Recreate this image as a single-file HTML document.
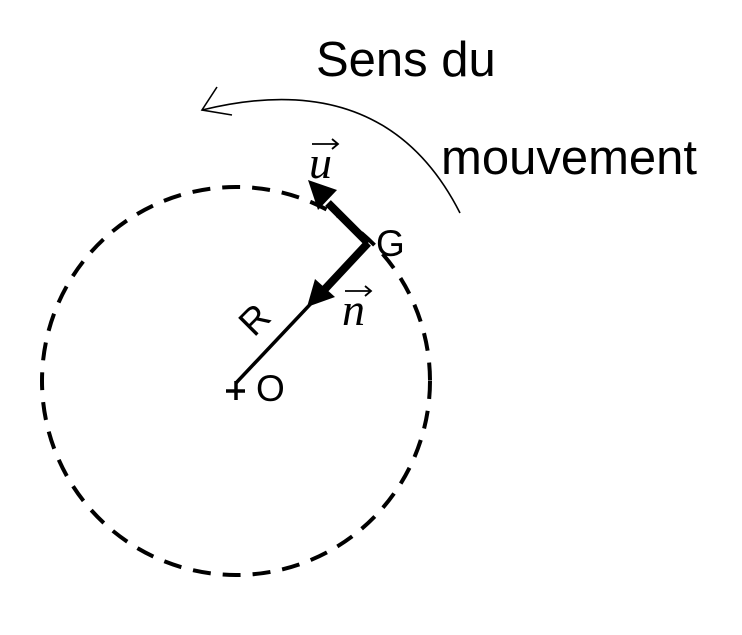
<!DOCTYPE html>
<html><head><style>body{margin:0;background:#fff}</style></head><body>
<svg width="742" height="630" xmlns="http://www.w3.org/2000/svg">
<rect width="742" height="630" fill="#fff"/>
<circle cx="236" cy="381" r="194" fill="none" stroke="#000" stroke-width="4" stroke-dasharray="18,12"/>
<path d="M460,213 Q385,65 202,110" fill="none" stroke="#000" stroke-width="1.6"/>
<path d="M217,87 L202,110 L232,115" fill="none" stroke="#000" stroke-width="1.6"/>
<line x1="236" y1="383" x2="368" y2="243" stroke="#000" stroke-width="3.5"/>
<line x1="368" y1="243" x2="325" y2="289" stroke="#000" stroke-width="8"/>
<polygon points="307,307 315,279 335,297" fill="#000"/>
<line x1="368" y1="243" x2="328" y2="203" stroke="#000" stroke-width="8"/>
<polygon points="308,180 337,190 318,210" fill="#000"/>
<line x1="226" y1="391" x2="245" y2="391" stroke="#000" stroke-width="3.5"/>
<line x1="236" y1="381" x2="236" y2="400" stroke="#000" stroke-width="3.5"/>
<g font-family="Liberation Sans, sans-serif" fill="#000">
<text x="316" y="76" font-size="49">Sens du</text>
<text x="441" y="174" font-size="49">mouvement</text>
<text x="376" y="256" font-size="37">G</text>
<text x="256" y="401" font-size="37">O</text>
<text x="0" y="0" font-size="37" transform="translate(254,338) rotate(-45)">R</text>
</g>
<g font-family="Liberation Serif, serif" font-style="italic" font-size="46" fill="#000">
<text x="309" y="178">u</text>
<text x="342" y="325">n</text>
</g>
<g stroke="#000" stroke-width="1.8" fill="none">
<path d="M312,144 L338,144 M332,139 L338,144 L332,149"/>
<path d="M345,291 L371,291 M365,286 L371,291 L365,296"/>
</g>
</svg>
</body></html>
